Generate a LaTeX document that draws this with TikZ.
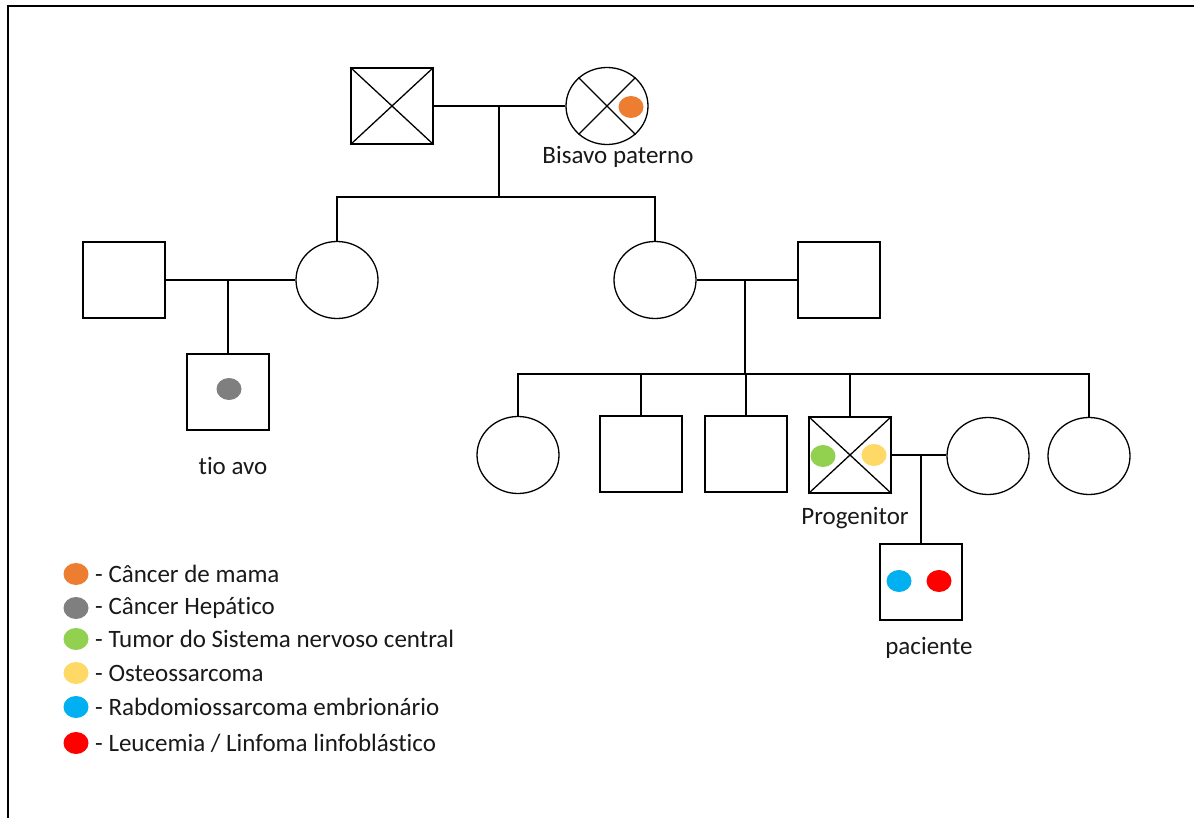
\documentclass[tikz,border=0pt]{standalone}
\usepackage{fontspec}
\setmainfont{Carlito}[Ligatures=NoCommon]
\usetikzlibrary{shapes.geometric}
\definecolor{cOrange}{HTML}{ED7D31}
\definecolor{cGray}{HTML}{7F7F7F}
\definecolor{cGreen}{HTML}{92D050}
\definecolor{cYellow}{HTML}{FFD966}
\definecolor{cBlue}{HTML}{00B0F0}
\definecolor{cRed}{HTML}{FF0000}
\tikzset{
  person/.style={draw, line width=1.3pt, inner sep=0pt},
  male/.style={person, rectangle, minimum width=82pt, minimum height=76pt},
  female/.style={person, ellipse, minimum width=82pt, minimum height=77pt},
  link/.style={line width=1.3pt},
  frameline/.style={line width=1.5pt},
  dot/.style={ellipse, inner sep=0pt, minimum width=25pt, minimum height=22pt},
  lbl/.style={font=\fontsize{25}{29}\selectfont, inner sep=0pt, text=black!90},
  leg/.style={lbl, anchor=west}
}
\begin{document}
\begin{tikzpicture}[x=1pt,y=-1pt]
\useasboundingbox (0,0) rectangle (1194,818);
\fill[white] (0,0) rectangle (1194,818);
% frame
\coordinate (fbl) at (8,830);
\coordinate (ftl) at (8,6);
\coordinate (ftr) at (1200,6);
\draw[frameline] (fbl) -- (ftl) -- (ftr);

% generation I
\node[male] (gf) at (392,106) {};
\node[female] (gm) at (607,106) {};
\draw[link] (gf.north west) -- (gf.south east) (gf.north east) -- (gf.south west);
\draw[link] (gm.45) -- (gm.225) (gm.135) -- (gm.315);
\node[dot, fill=cOrange] (dgm) at (631,107) {};
\node[lbl] (lgm) at (618,157) {Bisavo paterno};
\coordinate (m1) at (499,106);
\coordinate (sib1) at (499,197);
\draw[link] (gf) -- (gm);
\draw[link] (m1) -- (sib1);

% generation II
\node[male] (h1) at (124,280) {};
\node[female] (ga1) at (337,280) {};
\node[female] (ga2) at (655,280) {};
\node[male] (h2) at (839,280) {};
\draw[link] (ga1.north) -- (ga1.north |- sib1) -- (ga2.north |- sib1) -- (ga2.north);
\draw[link] (h1) -- (ga1);
\draw[link] (ga2) -- (h2);
\coordinate (m2) at (228,280);
\coordinate (m3) at (745,280);
\coordinate (sib2) at (745,374);

% tio avo
\node[male] (tio) at (228,392) {};
\node[dot, fill=cGray] (dtio) at (229,389) {};
\node[lbl] (ltio) at (233,466) {tio avo};
\draw[link] (m2) -- (tio);

% generation III
\node[female] (c1) at (518,455) {};
\node[male] (c2) at (641,454) {};
\node[male] (c3) at (746,454) {};
\node[male] (prog) at (850,455) {};
\node[female] (sp) at (988,456) {};
\node[female] (c6) at (1089,456) {};
\draw[link] (m3) -- (sib2);
\draw[link] (c1.north) -- (c1.north |- sib2) -- (c6.north |- sib2) -- (c6.north);
\draw[link] (c2.north) -- (c2.north |- sib2);
\draw[link] (c3.north) -- (c3.north |- sib2);
\draw[link] (prog.north) -- (prog.north |- sib2);
\draw[link] (prog.north west) -- (prog.south east) (prog.north east) -- (prog.south west);
\node[dot, fill=cGreen] (dprog1) at (823,456) {};
\node[dot, fill=cYellow] (dprog2) at (874,455) {};
\node[lbl] (lprog) at (855,518) {Progenitor};
\coordinate (m4) at (921,455);
\draw[link] (prog.east) -- (prog.east -| sp.west);

% paciente
\node[male] (pac) at (921,582) {};
\node[dot, fill=cBlue] (dpac1) at (899,581) {};
\node[dot, fill=cRed] (dpac2) at (939,581) {};
\node[lbl] (lpac) at (929,648) {paciente};
\draw[link] (m4) -- (pac);

% legend
\node[dot, fill=cOrange] (k1) at (76,574) {};
\node[dot, fill=cGray] (k2) at (76,608) {};
\node[dot, fill=cGreen] (k3) at (76,639) {};
\node[dot, fill=cYellow] (k4) at (76,673) {};
\node[dot, fill=cBlue] (k5) at (76,707) {};
\node[dot, fill=cRed] (k6) at (76,743) {};
\node[leg] (t1) at (95,574) {- Câncer de mama};
\node[leg] (t2) at (95,608) {- Câncer Hepático};
\node[leg] (t3) at (95,639) {- Tumor do Sistema nervoso central};
\node[leg] (t4) at (95,673) {- Osteossarcoma};
\node[leg] (t5) at (95,707) {- Rabdomiossarcoma embrionário};
\node[leg] (t6) at (95,743) {- Leucemia / Linfoma linfoblástico};
\end{tikzpicture}
\end{document}
